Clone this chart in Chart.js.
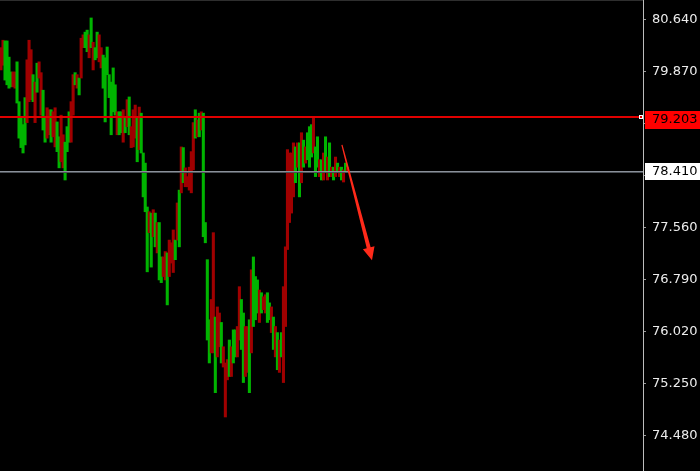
<!DOCTYPE html>
<html>
<head>
<meta charset="utf-8">
<script src="https://cdn.jsdelivr.net/npm/chart.js@4/dist/chart.umd.min.js"></script>
<style>
  html, body { margin: 0; padding: 0; background: #000; }
  #wrap { width: 700px; height: 471px; }
</style>
</head>
<body>
<div id="wrap"><canvas id="chart" width="700" height="471"></canvas></div>
<script>
// bar highs / lows, left to right
var highs = [
  80.23, 80.34, 80.33, 80.33, 80.09, 79.87, 79.87, 79.87, 80.02, 79.43,
  79.19, 79.09, 79.49, 80.05, 80.34, 80.20, 79.83, 79.72, 80.00, 80.02,
  79.86, 79.60, 79.19, 79.34, 79.31, 79.31, 79.28, 79.34, 79.13, 78.91,
  79.23, 78.94, 78.83, 79.06, 79.28, 79.43, 79.83, 79.86, 79.83, 79.78,
  80.37, 80.42, 80.46, 80.49, 80.42, 80.67, 80.31, 80.23, 80.46, 80.42,
  80.23, 80.12, 80.08, 80.24, 79.83, 79.72, 79.93, 79.68, 79.28, 79.28,
  79.28, 79.31, 79.20, 79.46, 79.50, 79.06, 79.31, 79.38, 79.20, 79.35,
  79.26, 78.67, 78.52, 77.87, 77.80, 77.78, 77.83, 77.78, 77.64, 77.64,
  77.13, 77.13, 77.21, 77.19, 77.38, 77.34, 77.53, 77.38, 77.93, 78.12,
  78.76, 78.75, 78.45, 78.32, 78.46, 78.69, 79.12, 79.31, 79.16, 79.26,
  79.28, 79.26, 77.64, 77.09, 76.20, 76.50, 77.49, 76.24, 76.39, 76.30,
  76.16, 75.80, 75.56, 75.61, 75.90, 75.80, 76.05, 76.05, 76.10, 76.69,
  76.50, 76.30, 76.10, 76.10, 76.20, 76.94, 77.13, 76.84, 76.79, 76.64,
  76.60, 76.54, 76.57, 76.60, 76.45, 76.39, 76.24, 76.10, 76.01, 75.90,
  76.01, 76.69, 77.28, 78.72, 78.67, 78.67, 78.82, 78.76, 78.82, 78.82,
  78.97, 78.86, 78.76, 78.97, 79.06, 79.09, 79.20, 78.76, 78.91, 78.57,
  78.57, 78.67, 78.91, 78.61, 78.82, 78.46, 78.46, 78.61, 78.52, 78.46,
  78.46, 78.42, 78.52, 78.46
];
var lows = [
  79.90, 79.97, 79.75, 79.68, 79.63, 79.65, 79.65, 79.63, 79.41, 78.89,
  78.75, 78.67, 78.79, 79.12, 79.43, 79.46, 79.43, 79.12, 79.57, 79.78,
  79.23, 79.01, 78.83, 78.89, 78.94, 78.83, 78.91, 78.76, 78.69, 78.45,
  78.54, 78.45, 78.27, 78.69, 78.83, 78.83, 79.23, 79.68, 79.63, 79.53,
  79.78, 80.23, 80.23, 80.17, 80.08, 80.23, 79.90, 80.05, 80.08, 80.02,
  79.93, 79.63, 79.13, 79.83, 79.49, 78.94, 79.28, 79.23, 78.94, 78.94,
  78.97, 78.83, 78.97, 79.06, 78.94, 78.75, 78.76, 78.89, 78.54, 78.72,
  78.67, 78.02, 77.80, 76.91, 77.49, 76.98, 77.43, 77.28, 77.19, 76.79,
  76.75, 76.84, 76.79, 76.42, 76.84, 77.04, 76.90, 77.09, 77.38, 77.28,
  78.08, 78.23, 78.17, 78.17, 78.12, 78.08, 78.42, 78.89, 78.91, 78.91,
  79.01, 77.43, 77.34, 75.90, 75.56, 75.71, 75.71, 75.12, 75.65, 75.80,
  75.56, 75.50, 74.76, 75.31, 75.36, 75.36, 75.56, 75.65, 75.65, 75.90,
  75.76, 75.27, 75.36, 75.42, 75.12, 75.71, 76.10, 76.20, 76.30, 76.16,
  76.30, 76.35, 76.30, 76.16, 76.20, 76.01, 75.76, 75.65, 75.46, 75.42,
  75.65, 75.27, 76.10, 77.24, 77.64, 77.78, 78.02, 78.23, 78.46, 78.02,
  78.23, 78.46, 78.52, 78.57, 78.46, 78.61, 78.67, 78.32, 78.46, 78.32,
  78.27, 78.27, 78.38, 78.27, 78.32, 78.32, 78.27, 78.32, 78.38, 78.32,
  78.27, 78.24, 78.38, 78.38
];
// g = up bar, r = down bar
var dirs = ("rrggggrrgggggrrrgrgrrggrrgrrgg" +
            "rrgggrrgrgrrggrgrggrrgggggggrg" +
            "grgrgrrrgrggggrgrgrggrrgrrrgrg" +
            "rgrrrrrgrgrggggrrgrrgrrrgrggrr" +
            "ggrrgrgggrgrrggrgrgrgrrrrrrgrg" +
            "rgrgggrggrgrgrgrgrgrgrgr").split("");

var slots = 321;                 // visible bar slots across the plot
var yTicks = [80.64, 79.87, 79.10, 78.33, 77.56, 76.79, 76.02, 75.25, 74.48];
var yMin = 73.96, yMax = 80.936;
var resistLevel = 79.203;        // red line
var lastPrice = 78.410;          // grey line
var arrowFrom = { x: 170.2, y: 78.79 };
var arrowTo = { x: 185.2, y: 77.08 };

var labels = [];
for (var i = 0; i < slots; i++) labels.push(String(i));
var bars = highs.map(function(h, i) { return [lows[i], h]; });
var colors = dirs.map(function(d) { return d === "g" ? "#00b400" : "#a00000"; });

var overlay = {
  id: 'overlay',
  beforeDraw: function(chart) {
    var c = chart.ctx;
    c.save();
    c.fillStyle = '#000';
    c.fillRect(0, 0, chart.width, chart.height);
    c.restore();
  },
  afterDraw: function(chart) {
    var c = chart.ctx, a = chart.chartArea;
    var xs = chart.scales.x, ys = chart.scales.y;
    c.save();
    // top frame line
    c.fillStyle = '#2e2e2e';
    c.fillRect(0, 0, a.right, 1);

    // grey last price line
    var yg = Math.round(ys.getPixelForValue(lastPrice));
    c.fillStyle = '#8a9099';
    c.fillRect(0, yg, a.right, 1);
    c.fillStyle = '#4a4f55';
    c.fillRect(0, yg + 1, a.right, 1);

    // red level line
    var yr = Math.round(ys.getPixelForValue(resistLevel));
    c.fillStyle = '#e00000';
    c.fillRect(0, yr - 1, a.right, 2);
    c.fillStyle = '#ffffff';
    c.fillRect(a.right - 4, yr - 2, 4, 4);
    c.fillStyle = '#e00000';
    c.fillRect(a.right - 3, yr - 1, 2, 2);

    // price boxes on the axis
    c.font = '13px "DejaVu Sans"';
    c.textBaseline = 'middle';
    c.textAlign = 'left';
    c.fillStyle = '#ff0000';
    c.fillRect(a.right + 2, yr - 6, chart.width - a.right - 2, 18);
    c.fillStyle = '#000';
    c.fillText(resistLevel.toFixed(3), a.right + 9, yr + 3);
    c.fillStyle = '#fff';
    c.fillRect(a.right + 2, yg - 8, chart.width - a.right - 2, 17);
    c.fillStyle = '#000';
    c.fillText(lastPrice.toFixed(3), a.right + 9, yg + 1);

    // red arrow
    var x1 = xs.getPixelForValue(arrowFrom.x), y1 = ys.getPixelForValue(arrowFrom.y);
    var x2 = xs.getPixelForValue(arrowTo.x), y2 = ys.getPixelForValue(arrowTo.y);
    var dx = x2 - x1, dy = y2 - y1, len = Math.sqrt(dx * dx + dy * dy);
    var ux = dx / len, uy = dy / len, px = -uy, py = ux;
    var head = 13;
    var bx = x2 - ux * head, by = y2 - uy * head;
    c.fillStyle = '#ff2a1a';
    c.beginPath();
    c.moveTo(x1 + px * 0.6, y1 + py * 0.6);
    c.lineTo(bx + px * 2, by + py * 2);
    c.lineTo(bx + px * 6, by + py * 6);
    c.lineTo(x2, y2);
    c.lineTo(bx - px * 6, by - py * 6);
    c.lineTo(bx - px * 2, by - py * 2);
    c.lineTo(x1 - px * 0.6, y1 - py * 0.6);
    c.closePath();
    c.fill();
    c.restore();
  }
};

var ctx = document.getElementById('chart').getContext('2d');
var chart = new Chart(ctx, {
  type: 'bar',
  data: {
    labels: labels,
    datasets: [{
      data: bars,
      backgroundColor: colors,
      borderWidth: 0,
      barThickness: 2.4
    }]
  },
  options: {
    responsive: false,
    animation: false,
    layout: { padding: 0 },
    plugins: { legend: { display: false }, tooltip: { enabled: false } },
    scales: {
      x: { display: false },
      y: {
        position: 'right',
        min: yMin,
        max: yMax,
        afterBuildTicks: function(scale) {
          scale.ticks = yTicks.map(function(v) { return { value: v }; });
        },
        afterFit: function(scale) {
          scale.width = 57;
          scale.paddingTop = 0;
          scale.paddingBottom = 0;
        },
        ticks: {
          color: '#ececec',
          padding: 6,
          font: { family: 'DejaVu Sans', size: 13 },
          callback: function(v) { return Number(v).toFixed(3); }
        },
        grid: { drawOnChartArea: false, tickLength: 3, color: '#9a9a9a' },
        border: { display: true, color: '#bdbdbd', width: 1 }
      }
    }
  },
  plugins: [overlay]
});
</script>
</body>
</html>
